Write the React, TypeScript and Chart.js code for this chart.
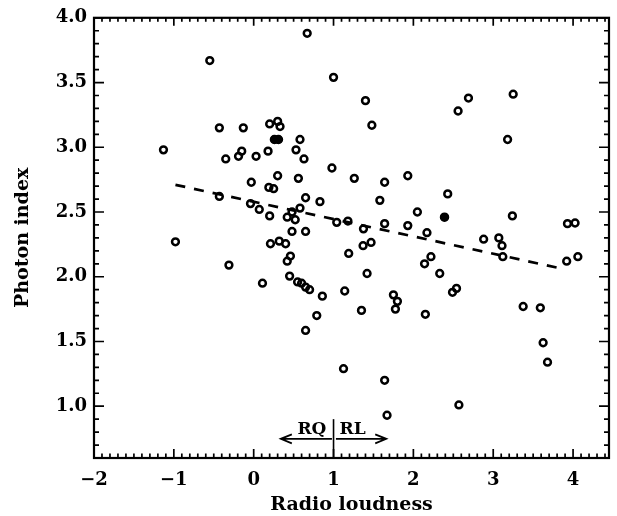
import React, { useEffect, useRef } from "react";
import { Chart, registerables } from "chart.js";

Chart.register(...registerables);

// Open circles: radio loudness (x) and photon index (y)
const openX = [
  0.67, -0.55, 1.0, -0.43, -0.13, 0.2, 0.3, 0.33, 0.58, -1.13,
  -0.15, -0.35, -0.19, 0.03, 0.18, 0.53, 0.63, 0.98, 0.3, -0.03,
  0.56, 0.19, 0.25, 0.65, -0.43, 0.83, 1.4, 1.48, 2.56, 2.69,
  3.25, 3.18, 1.26, 1.64, 1.93, 2.43, 1.58, -0.04, 0.07, 0.2,
  0.42, 0.48, 0.58, 0.52, 0.48, 0.65, 1.04, 1.18, -0.98, 0.21,
  0.32, 0.4, 0.46, 0.42, 1.19, -0.31, 0.45, 0.11, 0.55, 0.6,
  0.65, 0.7, 0.86, 1.14, 0.79, 0.65, 1.125, 2.05, 3.24, 1.375,
  1.64, 1.93, 2.17, 1.37, 1.47, 2.88, 3.07, 3.11, 3.12, 3.93,
  4.025, 3.92, 4.06, 2.22, 2.14, 1.42, 2.33, 1.75, 1.8, 1.775,
  1.35, 2.54, 2.49, 2.15, 3.375, 3.59, 3.625, 3.68, 1.64, 1.67,
  2.57,
];
const openY = [
  3.88, 3.67, 3.54, 3.15, 3.15, 3.18, 3.2, 3.16, 3.06, 2.98,
  2.97, 2.91, 2.93, 2.93, 2.97, 2.98, 2.91, 2.84, 2.78, 2.73,
  2.76, 2.69, 2.68, 2.61, 2.62, 2.58, 3.36, 3.17, 3.28, 3.38,
  3.41, 3.06, 2.76, 2.73, 2.78, 2.64, 2.59, 2.565, 2.52, 2.47,
  2.46, 2.5, 2.53, 2.44, 2.35, 2.35, 2.42, 2.43, 2.27, 2.255,
  2.275, 2.255, 2.16, 2.12, 2.18, 2.09, 2.005, 1.95, 1.96, 1.95,
  1.92, 1.9, 1.85, 1.89, 1.7, 1.585, 1.29, 2.5, 2.47, 2.37,
  2.41, 2.395, 2.34, 2.24, 2.265, 2.29, 2.3, 2.24, 2.155, 2.41,
  2.415, 2.12, 2.155, 2.155, 2.1, 2.025, 2.025, 1.86, 1.81, 1.75,
  1.74, 1.91, 1.88, 1.71, 1.77, 1.76, 1.49, 1.34, 1.2, 0.93,
  1.01,
];

// Filled circles
const filledX = [0.26, 0.31, 2.39];
const filledY = [3.06, 3.06, 2.46];

// Dashed regression line
const fitX = [-0.98, 3.88];
const fitY = [2.71, 2.06];

// Axes
const xTicks = [-2, -1, 0, 1, 2, 3, 4];
const yTicks = [1.0, 1.5, 2.0, 2.5, 3.0, 3.5, 4.0];
const xRange = [-2, 4.45];
const yRange = [0.6, 4.0];
const xMinorStep = 0.1;
const yMinorStep = 0.1;

// RQ / RL annotation
const dividerX = 1.0;
const dividerTop = 0.9;
const arrowY = 0.748;
const rqArrow = [0.98, 0.34];
const rlArrow = [1.03, 1.66];
const rqLabel = { text: "RQ", x: 0.91, y: 0.785 };
const rlLabel = { text: "RL", x: 1.075, y: 0.785 };

const FONT = "'DejaVu Serif', 'Liberation Serif', serif";

const framePlugin = {
  id: "frame",
  afterDatasetsDraw(chart: any) {
    const { ctx, chartArea: a, scales } = chart;
    const xs = scales.x;
    const ys = scales.y;
    ctx.save();
    ctx.strokeStyle = "#000";
    ctx.fillStyle = "#000";
    // frame
    ctx.lineWidth = 2.2;
    ctx.strokeRect(a.left, a.top, a.right - a.left, a.bottom - a.top);
    // ticks
    ctx.lineWidth = 1.7;
    const isMajor = (v: number, arr: number[]) => arr.some((t) => Math.abs(t - v) < 1e-6);
    const nX = Math.round((xRange[1] - xRange[0]) / xMinorStep);
    for (let i = 0; i <= nX; i++) {
      const v = xRange[0] + i * xMinorStep;
      if (v > xRange[1] + 1e-9) break;
      const px = xs.getPixelForValue(v);
      const major = isMajor(v, xTicks);
      const lb = major ? 9 : 4.5;
      const lt = major ? 8 : 4;
      ctx.beginPath();
      ctx.moveTo(px, a.bottom);
      ctx.lineTo(px, a.bottom - lb);
      ctx.moveTo(px, a.top);
      ctx.lineTo(px, a.top + lt);
      ctx.stroke();
    }
    const nY = Math.round((yRange[1] - yRange[0]) / yMinorStep);
    for (let i = 0; i <= nY; i++) {
      const v = yRange[0] + i * yMinorStep;
      const py = ys.getPixelForValue(v);
      const major = isMajor(v, yTicks);
      const l = major ? 10 : 5;
      ctx.beginPath();
      ctx.moveTo(a.left, py);
      ctx.lineTo(a.left + l, py);
      ctx.moveTo(a.right, py);
      ctx.lineTo(a.right - l, py);
      ctx.stroke();
    }
    // divider
    ctx.lineWidth = 1.6;
    const dx = xs.getPixelForValue(dividerX);
    ctx.beginPath();
    ctx.moveTo(dx, ys.getPixelForValue(yRange[0]));
    ctx.lineTo(dx, ys.getPixelForValue(dividerTop));
    ctx.stroke();
    // arrows
    ctx.lineWidth = 1.8;
    const ay = ys.getPixelForValue(arrowY);
    const drawArrow = (from: number, to: number) => {
      const x0 = xs.getPixelForValue(from);
      const x1 = xs.getPixelForValue(to);
      const dir = Math.sign(x1 - x0);
      ctx.beginPath();
      ctx.moveTo(x0, ay);
      ctx.lineTo(x1, ay);
      ctx.moveTo(x1 - dir * 11, ay - 4.5);
      ctx.lineTo(x1, ay);
      ctx.lineTo(x1 - dir * 11, ay + 4.5);
      ctx.stroke();
    };
    drawArrow(rqArrow[0], rqArrow[1]);
    drawArrow(rlArrow[0], rlArrow[1]);
    // labels
    ctx.font = `bold 17px ${FONT}`;
    ctx.textBaseline = "alphabetic";
    ctx.textAlign = "right";
    ctx.fillText(rqLabel.text, xs.getPixelForValue(rqLabel.x), ys.getPixelForValue(rqLabel.y));
    ctx.textAlign = "left";
    ctx.fillText(rlLabel.text, xs.getPixelForValue(rlLabel.x), ys.getPixelForValue(rlLabel.y));
    ctx.restore();
  },
};

export default function App() {
  const ref = useRef<HTMLCanvasElement | null>(null);
  useEffect(() => {
    document.body.style.margin = "0";
    const canvas = ref.current;
    if (!canvas) return;
    const tickFont = { family: FONT, weight: "bold" as const, size: 18 };
    const titleFont = { family: FONT, weight: "bold" as const, size: 19 };
    const chart = new Chart(canvas, {
      type: "scatter",
      data: {
        datasets: [
          {
            label: "open",
            data: openX.map((x, i) => ({ x, y: openY[i] })),
            pointStyle: "circle",
            pointRadius: 3.4,
            pointBorderWidth: 2.5,
            pointBorderColor: "#000",
            pointBackgroundColor: "rgba(0,0,0,0)",
            showLine: false,
          },
          {
            label: "filled",
            data: filledX.map((x, i) => ({ x, y: filledY[i] })),
            pointStyle: "circle",
            pointRadius: 4,
            pointBorderWidth: 1.5,
            pointBorderColor: "#000",
            pointBackgroundColor: "#000",
            showLine: false,
          },
          {
            type: "line" as any,
            label: "fit",
            data: fitX.map((x, i) => ({ x, y: fitY[i] })),
            borderColor: "#000",
            borderWidth: 2.7,
            borderDash: [10, 9],
            pointRadius: 0,
            showLine: true,
            fill: false,
          },
        ],
      },
      options: {
        responsive: false,
        animation: false,
        layout: { padding: { top: 13, right: 8, left: 0, bottom: 0 } },
        plugins: { legend: { display: false }, tooltip: { enabled: false } },
        scales: {
          x: {
            type: "linear",
            min: xRange[0],
            max: xRange[1],
            grid: { display: false, drawTicks: false },
            border: { display: false },
            afterBuildTicks: (s: any) => {
              s.ticks = xTicks.map((v) => ({ value: v }));
            },
            afterFit: (s: any) => {
              s.height = 58;
            },
            ticks: {
              autoSkip: false,
              maxRotation: 0,
              padding: 12,
              color: "#000",
              font: tickFont,
              callback: (v: any) => (Number(v) < 0 ? "\u2212" + Math.abs(Number(v)) : String(v)),
            },
            title: {
              display: true,
              text: "Radio loudness",
              color: "#000",
              font: titleFont,
              padding: { top: 0, bottom: 0 },
            },
          },
          y: {
            type: "linear",
            min: yRange[0],
            max: yRange[1],
            grid: { display: false, drawTicks: false },
            border: { display: false },
            afterBuildTicks: (s: any) => {
              s.ticks = yTicks.map((v) => ({ value: v }));
            },
            afterFit: (s: any) => {
              s.width = 94;
            },
            ticks: {
              autoSkip: false,
              padding: 7,
              color: "#000",
              font: tickFont,
              callback: (v: any) => Number(v).toFixed(1),
            },
            title: {
              display: true,
              text: "Photon index",
              color: "#000",
              font: titleFont,
              padding: { top: 12, bottom: 0 },
            },
          },
        },
      },
      plugins: [framePlugin],
    });
    return () => chart.destroy();
  }, []);
  return (
    <div style={{ width: 617, height: 516, background: "#fff" }}>
      <canvas ref={ref} width={617} height={516} />
    </div>
  );
}
